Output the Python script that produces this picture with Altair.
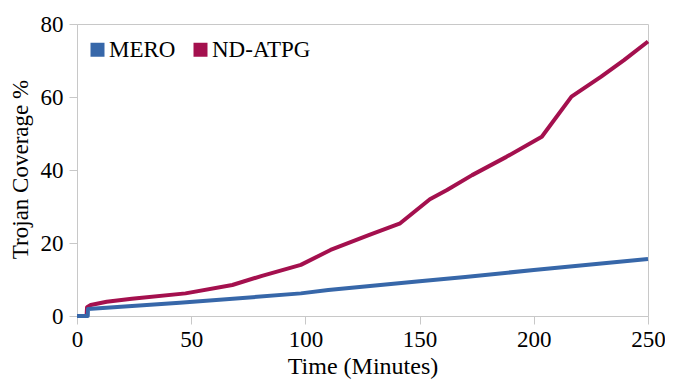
import altair as alt
import pandas as pd

# MERO series
time_mero = [0, 4.7, 4.8, 45, 98, 110, 150, 170, 200, 250]
cov_mero = [0, 0, 1.9, 3.6, 6.2, 7.1, 9.5, 10.7, 12.6, 15.6]

# ND-ATPG series
time_nd = [0, 4.2, 4.4, 6, 13, 24, 47.5, 68, 81, 98, 111, 128, 141.5, 154.5,
           162, 173, 188, 203.5, 216.5, 229.5, 239.5, 250]
cov_nd = [0, 0, 2.4, 3.0, 3.9, 4.7, 6.2, 8.5, 11, 14, 18.1, 22.2, 25.4, 32,
          34.5, 38.6, 43.6, 49.1, 60.1, 65.6, 70.1, 75.2]

series = ["MERO", "ND-ATPG"]
colors = ["#3767A9", "#A4104E"]
x_ticks = [0, 50, 100, 150, 200, 250]
y_ticks = [0, 20, 40, 60, 80]

df = pd.concat([
    pd.DataFrame({"t": time_nd, "v": cov_nd, "s": "ND-ATPG", "i": range(len(time_nd))}),
    pd.DataFrame({"t": time_mero, "v": cov_mero, "s": "MERO", "i": range(len(time_mero))}),
])

FONT = "Liberation Serif"
GRAY = "#c8c8c8"
W = 571

chart = alt.Chart(df).mark_line(strokeWidth=4, strokeJoin="round").encode(
    x=alt.X("t:Q", scale=alt.Scale(domain=[0, 250], nice=False),
            axis=alt.Axis(values=x_ticks, title="Time (Minutes)", grid=False,
                          labelFlush=False, labelOverlap=False,
                          tickSize=8, labelPadding=4, labelFontSize=23, labelFont=FONT,
                          labelColor="black", domainColor=GRAY, tickColor=GRAY,
                          titleFont=FONT, titleFontSize=24, titleFontWeight="normal",
                          titleColor="black", titleX=W / 2, titleY=57,
                          titleBaseline="alphabetic", titleAlign="center")),
    y=alt.Y("v:Q", scale=alt.Scale(domain=[0, 80], nice=False),
            axis=alt.Axis(values=y_ticks, title="Trojan Coverage %", grid=False,
                          labelFlush=False, labelOverlap=False,
                          tickSize=8, labelPadding=6, labelFontSize=23, labelFont=FONT,
                          labelColor="black", domainColor=GRAY, tickColor=GRAY,
                          titleFont=FONT, titleFontSize=23, titleFontWeight="normal",
                          titleColor="black", titleX=-50, titleY=145,
                          titleBaseline="alphabetic", titleAlign="center", titleAngle=270)),
    color=alt.Color("s:N", scale=alt.Scale(domain=series, range=colors),
                    legend=alt.Legend(title=None, orient="none", legendX=9, legendY=14,
                                      direction="horizontal", symbolType="square",
                                      symbolSize=36, symbolStrokeWidth=8,
                                      labelFont=FONT,
                                      labelFontSize=23, labelColor="black",
                                      labelOffset=0, columnPadding=5, padding=0)),
    order="i:Q",
).properties(
    width=W, height=292,
    autosize=alt.AutoSizeParams(type="none"),
    padding={"left": 69, "top": 16, "right": 17, "bottom": 63},
).configure(
    font=FONT,
    style={"guide-label": {"font": FONT}, "guide-title": {"font": FONT}},
).configure_axis(
    labelFont=FONT, titleFont=FONT
).configure_view(stroke=GRAY, strokeWidth=1)

chart.save("out.html", embed_options={"renderer": "svg", "actions": False})
